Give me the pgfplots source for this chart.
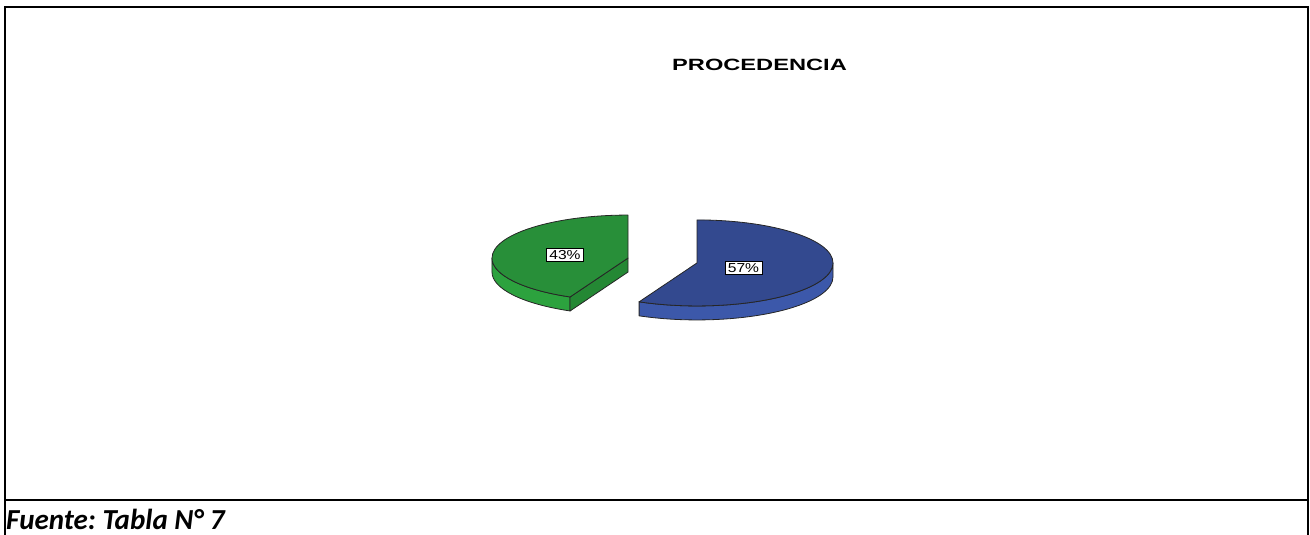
\documentclass[border=0pt]{standalone}
\usepackage{pgfplots}
\pgfplotsset{compat=1.18}
\usepackage{pgfplotstable}
\usepackage{graphicx}
\usepackage{fontspec}
\setmainfont{Liberation Sans}
\newfontfamily\calibri{Carlito}
\definecolor{bluetop}{RGB}{51,73,143}
\definecolor{blueside}{RGB}{60,88,170}
\definecolor{greentop}{RGB}{40,143,57}
\definecolor{greenside}{RGB}{44,162,62}
\definecolor{greencut}{RGB}{36,136,52}
\pgfplotstableread{
label value
A 57
B 43
}\piedata
\pgfplotstablegetelem{0}{value}\of\piedata \let\vA\pgfplotsretval
\pgfplotstablegetelem{1}{value}\of\piedata \let\vB\pgfplotsretval
\begin{document}
\begin{tikzpicture}
% geometry of the tilted pie
\pgfmathsetmacro\rx{136}
\pgfmathsetmacro\ry{43}
\pgfmathsetmacro\hh{14}
\pgfmathsetmacro\bx{662.5}
\pgfmathsetmacro\by{274.5}
\pgfmathsetmacro\ex{0.26}
\pgfmathsetmacro\aS{90}
\pgfmathsetmacro\aM{90-3.6*\vA}
\pgfmathsetmacro\aMg{\aM+360}
\pgfmathsetmacro\mA{(\aS+\aM)/2}
\pgfmathsetmacro\mB{(\aMg+90)/2}
\pgfmathsetmacro\cAx{\bx+\ex*\rx*cos(\mA)}
\pgfmathsetmacro\cAy{\by+\ex*\ry*sin(\mA)}
\pgfmathsetmacro\cBx{\bx+\ex*\rx*cos(\mB)}
\pgfmathsetmacro\cBy{\by+\ex*\ry*sin(\mB)}
\begin{axis}[width=1310pt,height=535pt,scale only axis,
  xmin=0,xmax=1310,ymin=0,ymax=535,hide axis,clip=false]
\coordinate (ll) at (axis cs:0,0);
\coordinate (ur) at (axis cs:1310,535);
% frame
\draw[line width=2pt] (axis cs:5,0) -- (axis cs:5,528) -- (axis cs:1308,528) -- (axis cs:1308,0);
\draw[line width=2pt] (axis cs:5,35) -- (axis cs:1308,35);
% blue slice (57%)
\filldraw[fill=blueside,draw=black!85,line width=0.8pt]
  (axis cs:{\cAx+\rx*cos(\aM)},{\cAy+\ry*sin(\aM)})
  arc[start angle=\aM,end angle=0,x radius=\rx,y radius=\ry]
  -- ++(0,-\hh)
  arc[start angle=0,end angle=\aM,x radius=\rx,y radius=\ry] -- cycle;
\filldraw[fill=bluetop,draw=black!85,line width=0.8pt,line join=round]
  (axis cs:\cAx,\cAy) -- (axis cs:{\cAx+\rx*cos(\aS)},{\cAy+\ry*sin(\aS)})
  arc[start angle=\aS,end angle=\aM,x radius=\rx,y radius=\ry] -- cycle;
% green slice (43%)
\filldraw[fill=greenside,draw=black!85,line width=0.8pt]
  (axis cs:{\cBx+\rx*cos(180)},{\cBy})
  arc[start angle=180,end angle=\aMg,x radius=\rx,y radius=\ry]
  -- ++(0,-\hh)
  arc[start angle=\aMg,end angle=180,x radius=\rx,y radius=\ry] -- cycle;
\filldraw[fill=greencut,draw=black!85,line width=0.8pt,line join=round]
  (axis cs:\cBx,\cBy) -- (axis cs:{\cBx+\rx*cos(\aMg)},{\cBy+\ry*sin(\aMg)})
  -- ++(0,-\hh) -- (axis cs:\cBx,{\cBy-\hh}) -- cycle;
\filldraw[fill=greentop,draw=black!85,line width=0.8pt,line join=round]
  (axis cs:\cBx,\cBy) -- (axis cs:{\cBx+\rx*cos(90)},{\cBy+\ry*sin(90)})
  arc[start angle=90,end angle=\aMg,x radius=\rx,y radius=\ry] -- cycle;
% labels
\node[draw=black,fill=white,line width=0.6pt,inner xsep=3pt,inner ysep=1.8pt,text height=9.3pt,text depth=0pt,
  font=\fontsize{13}{13}\selectfont] at (axis cs:565,280.5) {\scalebox{1.2}[1]{\vB\%}};
\node[draw=black,fill=white,line width=0.6pt,inner xsep=3pt,inner ysep=1.8pt,text height=9.3pt,text depth=0pt,
  font=\fontsize{13}{13}\selectfont] at (axis cs:743.5,267.5) {\scalebox{1.2}[1]{\vA\%}};
% title
\node[font=\fontsize{16.3}{18}\bfseries] at (axis cs:759.5,470) {\scalebox{1.45}[1]{PROCEDENCIA}};
% source
\node[anchor=base west,inner sep=0pt,font=\fontsize{29}{32}\calibri\bfseries\itshape] at (axis cs:6,5) {Fuente:\hspace{-2pt} Tabla N° 7};
\end{axis}
\pgfresetboundingbox
\path (ll) rectangle (ur);
\end{tikzpicture}
\end{document}
